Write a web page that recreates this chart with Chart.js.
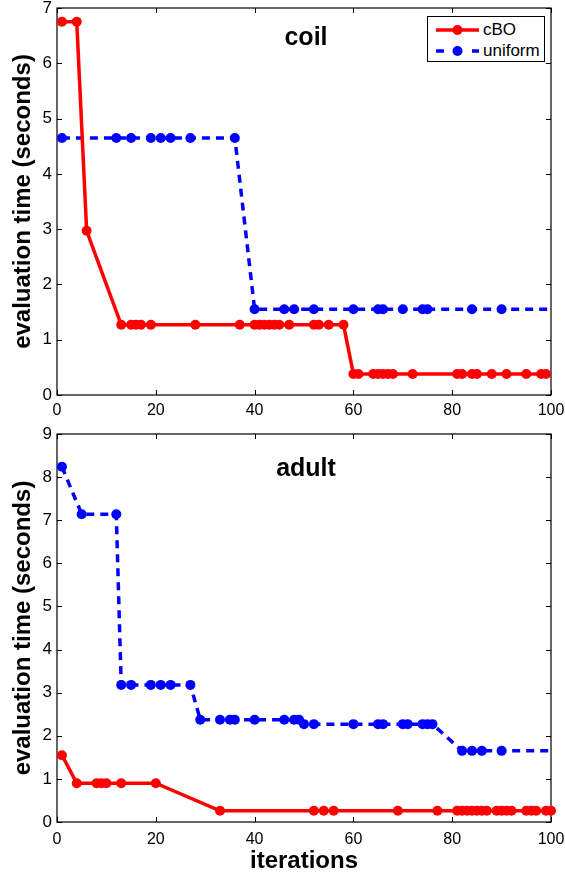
<!DOCTYPE html>
<html>
<head>
<meta charset="utf-8">
<script src="https://cdn.jsdelivr.net/npm/chart.js@4.4.1/dist/chart.umd.min.js"></script>
<style>
  body { margin: 0; background: #fff; width: 565px; height: 876px; position: relative; overflow: hidden;
         font-family: "Liberation Sans", Arial, sans-serif; }
  #coil { position: absolute; left: 0; top: 0; }
  #adult { position: absolute; left: 0; top: 420px; }
  .legend { position: absolute; left: 427px; top: 16px; width: 116px; height: 44px;
            border: 1.5px solid #000; background: #fff; font-size: 17px; }
  .row { position: absolute; left: 0; height: 20px; display: flex; align-items: center; }
  .row svg { margin-left: 8px; margin-right: 4px; }
</style>
</head>
<body>
<canvas id="coil" width="565" height="420"></canvas>
<canvas id="adult" width="565" height="456"></canvas>
<div class="legend">
  <div class="row" style="top:3px">
    <svg width="43" height="12"><line x1="0" y1="6" x2="43" y2="6" stroke="#ff0000" stroke-width="3.5"/><circle cx="21.5" cy="6" r="5" fill="#ff0000"/></svg>
    <span>cBO</span>
  </div>
  <div class="row" style="top:24px">
    <svg width="43" height="12"><line x1="0" y1="6" x2="43" y2="6" stroke="#0000ff" stroke-width="3.5" stroke-dasharray="8,10"/><circle cx="21.5" cy="6" r="5" fill="#0000ff"/></svg>
    <span>uniform</span>
  </div>
</div>
<script>
// === DATOS ===
const xTicks = [0, 20, 40, 60, 80, 100];
const coilYTicks = [0, 1, 2, 3, 4, 5, 6, 7];
const adultYTicks = [0, 1, 2, 3, 4, 5, 6, 7, 8, 9];

// coil
const coilCboX = [1, 4, 6, 13, 15, 16, 17, 19, 28, 37, 40, 41, 42, 43, 44, 45, 47, 52, 53, 55, 58,
                  60, 61, 64, 65, 66, 67, 68, 72, 81, 82, 84, 85, 88, 91, 95, 98, 99];
const coilCboY = [6.75, 6.75, 2.97, 1.27, 1.27, 1.27, 1.27, 1.27, 1.27, 1.27, 1.27, 1.27, 1.27, 1.27, 1.27, 1.27, 1.27, 1.27, 1.27, 1.27, 1.27,
                  0.38, 0.38, 0.38, 0.38, 0.38, 0.38, 0.38, 0.38, 0.38, 0.38, 0.38, 0.38, 0.38, 0.38, 0.38, 0.38, 0.38];
const coilUniX = [1, 12, 15, 19, 21, 23, 27, 36, 40, 46, 48, 52, 60, 65, 66, 70, 74, 75, 84, 90, 100];
const coilUniY = [4.65, 4.65, 4.65, 4.65, 4.65, 4.65, 4.65, 4.65, 1.55, 1.55, 1.55, 1.55, 1.55, 1.55, 1.55, 1.55, 1.55, 1.55, 1.55, 1.55, 1.55];

// adult
const adultCboX = [1, 4, 8, 9, 10, 13, 20, 33, 52, 54, 56, 69, 77, 81, 82, 83, 84, 85, 86, 87,
                   89, 90, 91, 92, 95, 96, 97, 99, 100];
const adultCboY = [1.55, 0.9, 0.9, 0.9, 0.9, 0.9, 0.9, 0.26, 0.26, 0.26, 0.26, 0.26, 0.26, 0.26, 0.26, 0.26, 0.26, 0.26, 0.26, 0.26,
                   0.26, 0.26, 0.26, 0.26, 0.26, 0.26, 0.26, 0.26, 0.26];
const adultUniX = [1, 5, 12, 13, 15, 19, 21, 23, 27, 29, 33, 35, 36, 40, 46, 48, 49, 50, 52, 60, 65, 66, 70, 71, 74, 75, 76,
                   82, 84, 86, 90, 100];
const adultUniY = [8.24, 7.14, 7.14, 3.18, 3.18, 3.18, 3.18, 3.18, 3.18, 2.37, 2.37, 2.37, 2.37, 2.37, 2.37, 2.37, 2.37,
                   2.27, 2.27, 2.27, 2.27, 2.27, 2.27, 2.27, 2.27, 2.27, 2.27, 1.65, 1.65, 1.65, 1.65, 1.65];

// === ESTILO ===
const FONT = '"Liberation Sans", Arial, sans-serif';
const toPoints = (xs, ys) => xs.map((x, i) => ({ x: x, y: ys[i] }));

// marco con marcas hacia dentro (estilo MATLAB)
const frame = {
  id: "frame",
  beforeDatasetsDraw(chart) {
    const { ctx, chartArea: a, scales } = chart;
    ctx.save();
    ctx.strokeStyle = "#000";
    ctx.lineWidth = 1.2;
    ctx.strokeRect(a.left, a.top, a.right - a.left, a.bottom - a.top);
    ctx.lineWidth = 1;
    ctx.beginPath();
    scales.x.ticks.forEach(t => {
      const px = Math.round(scales.x.getPixelForValue(t.value)) + 0.5;
      ctx.moveTo(px, a.bottom); ctx.lineTo(px, a.bottom - 5);
      ctx.moveTo(px, a.top); ctx.lineTo(px, a.top + 5);
    });
    scales.y.ticks.forEach(t => {
      const py = Math.round(scales.y.getPixelForValue(t.value)) + 0.5;
      ctx.moveTo(a.left, py); ctx.lineTo(a.left + 5, py);
      ctx.moveTo(a.right, py); ctx.lineTo(a.right - 5, py);
    });
    ctx.stroke();
    ctx.restore();
  }
};

const panelTitle = {
  id: "panelTitle",
  afterDatasetsDraw(chart, args, opts) {
    const { ctx, chartArea: a } = chart;
    ctx.save();
    ctx.font = "bold 25px " + FONT;
    ctx.fillStyle = "#000";
    ctx.textAlign = "center";
    ctx.textBaseline = "middle";
    ctx.fillText(opts.text, (a.left + a.right) / 2 + 2, a.top + opts.dy);
    ctx.restore();
  }
};

function makeChart(id, title, titleDy, cbo, uni, yTicks, xAxisHeight, showXTitle, padTop, xTickPad) {
  const yMax = yTicks[yTicks.length - 1];
  return new Chart(document.getElementById(id), {
    type: "scatter",
    data: {
      datasets: [
        {
          label: "cBO", data: cbo, showLine: true,
          borderColor: "#ff0000", backgroundColor: "#ff0000",
          borderWidth: 3.5, pointRadius: 5, pointBorderWidth: 0, clip: 10
        },
        {
          label: "uniform", data: uni, showLine: true,
          borderColor: "#0000ff", backgroundColor: "#0000ff",
          borderWidth: 3.5, borderDash: [8, 6],
          pointRadius: ctx => ctx.dataIndex === uni.length - 1 ? 0 : 5,
          pointBorderWidth: 0, clip: 10
        }
      ]
    },
    options: {
      responsive: false,
      animation: false,
      layout: { padding: { top: padTop, right: 14, left: 0, bottom: 0 } },
      plugins: {
        legend: { display: false },
        tooltip: { enabled: false },
        panelTitle: { text: title, dy: titleDy }
      },
      scales: {
        x: {
          type: "linear", min: 0, max: 100,
          grid: { display: false, drawTicks: false },
          border: { display: false },
          afterBuildTicks: s => { s.ticks = xTicks.map(v => ({ value: v })); },
          afterFit: s => { s.height = xAxisHeight; s.paddingLeft = 0; s.paddingRight = 0; },
          ticks: { color: "#000", font: { family: FONT, size: 16 }, padding: xTickPad, maxRotation: 0 },
          title: { display: showXTitle, text: "iterations", color: "#000",
                   font: { family: FONT, size: 24, weight: "bold" }, padding: { top: 0, bottom: 0 } }
        },
        y: {
          type: "linear", min: 0, max: yMax,
          grid: { display: false, drawTicks: false },
          border: { display: false },
          afterBuildTicks: s => { s.ticks = yTicks.map(v => ({ value: v })); },
          afterFit: s => { s.width = 57; s.paddingTop = 0; s.paddingBottom = 0; },
          ticks: { color: "#000", font: { family: FONT, size: 17 }, padding: 5 },
          title: { display: true, text: "evaluation time (seconds)", color: "#000",
                   font: { family: FONT, size: 24, weight: "bold" }, padding: { top: 9, bottom: 0 } }
        }
      }
    },
    plugins: [frame, panelTitle]
  });
}

makeChart("coil", "coil", 30, toPoints(coilCboX, coilCboY), toPoints(coilUniX, coilUniY),
          coilYTicks, 25, false, 8, 6);
makeChart("adult", "adult", 35, toPoints(adultCboX, adultCboY), toPoints(adultUniX, adultUniY),
          adultYTicks, 54, true, 14, 8);
</script>
</body>
</html>
